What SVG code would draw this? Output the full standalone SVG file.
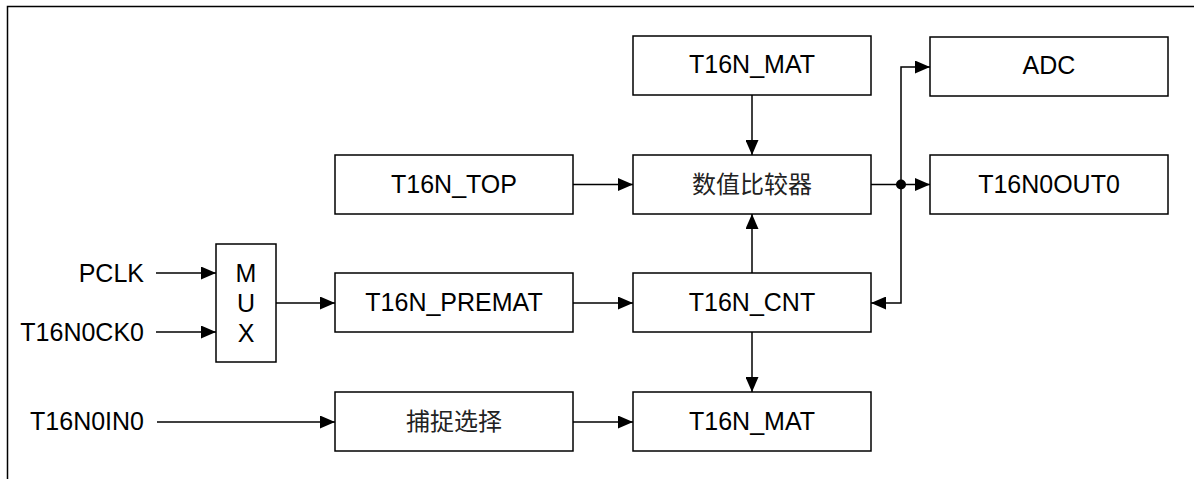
<svg xmlns="http://www.w3.org/2000/svg" width="1194" height="479" viewBox="0 0 1194 479">
<style>
.box{fill:#fff;stroke:#000;stroke-width:1.5}
.t{font-family:"Liberation Sans",Arial,sans-serif;font-size:25px;fill:#000;text-anchor:middle}
.c{font-family:"Noto Sans CJK SC","Liberation Sans",sans-serif;font-size:24px;fill:#222;text-anchor:middle}
.l{font-family:"Liberation Sans",Arial,sans-serif;font-size:25px;fill:#000;text-anchor:end}
.w{fill:none;stroke:#000;stroke-width:1.5}
</style>
<defs>
<marker id="a" viewBox="0 0 15 13" refX="15" refY="6.5" markerWidth="15" markerHeight="13" markerUnits="userSpaceOnUse" orient="auto">
<path d="M0,0 L15,6.5 L0,13 Z" fill="#000"/>
</marker>
</defs>
<rect width="1194" height="479" fill="#fff"/>
<g id="frame"><path class="w" d="M7.5,479 V6.5 H1194"/></g>

<g id="mat_top"><rect class="box" x="633" y="36" width="238" height="59"/><text class="t" x="752" y="73">T16N_MAT</text></g>
<g id="adc"><rect class="box" x="930" y="37" width="238" height="59"/><text class="t" x="1049" y="74">ADC</text></g>
<g id="top"><rect class="box" x="335" y="155" width="238" height="59"/><text class="t" x="454" y="193">T16N_TOP</text></g>
<g id="cmp"><rect class="box" x="633" y="155" width="238" height="59"/><text class="c" x="752" y="193">数值比较器</text></g>
<g id="out"><rect class="box" x="930" y="155" width="238" height="59"/><text class="t" x="1049" y="193">T16N0OUT0</text></g>
<g id="mux"><rect class="box" x="216" y="244" width="60" height="118"/><text class="t" x="246" y="282">M</text><text class="t" x="246" y="312">U</text><text class="t" x="246" y="342">X</text></g>
<g id="premat"><rect class="box" x="335" y="273" width="238" height="59"/><text class="t" x="454" y="311">T16N_PREMAT</text></g>
<g id="cnt"><rect class="box" x="633" y="273" width="238" height="59"/><text class="t" x="752" y="311">T16N_CNT</text></g>
<g id="cap"><rect class="box" x="335" y="392" width="238" height="59"/><text class="c" x="454" y="430">捕捉选择</text></g>
<g id="mat_bot"><rect class="box" x="633" y="392" width="238" height="59"/><text class="t" x="752" y="430">T16N_MAT</text></g>
<g id="labels">
<text class="l" x="144" y="282">PCLK</text>
<text class="l" x="144" y="341">T16N0CK0</text>
<text class="l" x="144" y="430">T16N0IN0</text>
</g>

<g id="connectors" class="w" marker-end="url(#a)">
<path d="M156,273 H216"/>
<path d="M156,332 H216"/>
<path d="M276,303 H335"/>
<path d="M573,303 H633"/>
<path d="M573,184.5 H633"/>
<path d="M157,422 H335"/>
<path d="M573,422 H633"/>
<path d="M752,95 V155"/>
<path d="M752,273 V214"/>
<path d="M752,332 V392"/>
<path d="M871,184.5 H930"/>
<path d="M901,184.5 V67 H930"/>
<path d="M901,184.5 V303 H871"/>
</g>
<circle cx="901" cy="184.5" r="5" fill="#000"/>
</svg>
